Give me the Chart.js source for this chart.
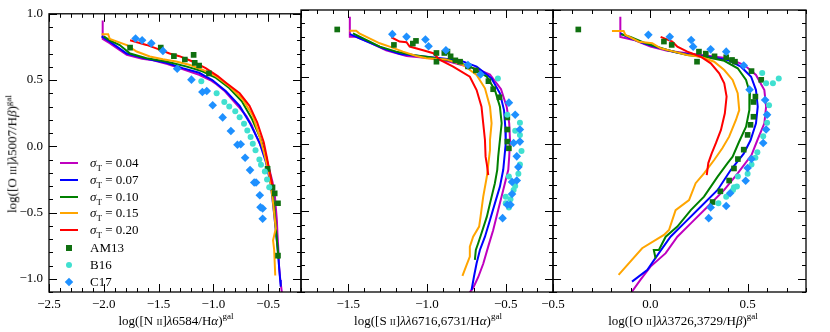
<!DOCTYPE html>
<html>
<head>
<meta charset="utf-8">
<script src="https://cdn.jsdelivr.net/npm/chart.js@4.4.1/dist/chart.umd.min.js"></script>
<style>
    body { margin: 0; background: #fff; }
    #wrap { position: relative; width: 830px; height: 332px; font-family: "Liberation Serif", "DejaVu Serif", serif; color: #000; overflow: hidden; }
    #wrap canvas { position: absolute; left: 0; top: 0; }
    .ttl { position: absolute; font-size: 13px; white-space: nowrap; transform: translate(-50%, -50%); }
    .ttl sup { font-size: 9px; }
    .sc { font-variant: small-caps; }
    #ytitle { transform: translate(-50%, -50%) rotate(-90deg); }
    .leg { position: absolute; left: 56px; height: 16px; width: 120px; font-size: 13px; }
    .leg .sw { position: absolute; }
    .leg .lt { position: absolute; left: 34px; top: 0; line-height: 16px; }
    .leg sub { font-size: 9px; font-style: normal; }
</style>
</head>
<body>
<div id="wrap">
    <canvas id="p1" width="830" height="332"></canvas>
    <canvas id="p2" width="830" height="332"></canvas>
    <canvas id="p3" width="830" height="332"></canvas>
    <div class="ttl" id="ytitle" style="left:12px; top:154px;">log([O <span class="sc">iii</span>]<i>λ</i>5007/H<i>β</i>)<sup>gal</sup></div>
    <div class="ttl" style="left:176px; top:320px;">log([N <span class="sc">ii</span>]<i>λ</i>6584/H<i>α</i>)<sup>gal</sup></div>
    <div class="ttl" style="left:428px; top:320px;">log([S <span class="sc">ii</span>]<i>λλ</i>6716,6731/H<i>α</i>)<sup>gal</sup></div>
    <div class="ttl" style="left:683px; top:320px;">log([O <span class="sc">ii</span>]<i>λλ</i>3726,3729/H<i>β</i>)<sup>gal</sup></div>
    <div id="legend"></div>
</div>

<script>
/* ---------- data: [x, y] pairs ---------- */

const sigmaT = ['0.04', '0.07', '0.10', '0.15', '0.20'];
const sampleNames = ['AM13', 'B16', 'C17'];

const yTicks = [-1.0, -0.5, 0.0, 0.5, 1.0];
const n2Ticks = [-2.5, -2.0, -1.5, -1.0, -0.5];
const s2Ticks = [-1.5, -1.0, -0.5];
const o2Ticks = [-0.5, 0.0, 0.5];

// panel 1: [N II]/Ha
const n2_04 = [[-2.01,0.95],[-2.01,0.81],[-1.95,0.78],[-1.86,0.73],[-1.79,0.69],[-1.65,0.66],[-1.55,0.65],[-1.42,0.62],[-1.31,0.59],[-1.13,0.54],[-1.03,0.50],[-0.975,0.47],[-0.90,0.42],[-0.83,0.355],[-0.76,0.29],[-0.70,0.23],[-0.65,0.16],[-0.61,0.08],[-0.565,0.0],[-0.52,-0.09],[-0.49,-0.17],[-0.46,-0.27],[-0.44,-0.36],[-0.43,-0.46],[-0.42,-0.56],[-0.415,-0.66],[-0.405,-0.80],[-0.40,-0.91],[-0.39,-1.0],[-0.375,-1.1]];
const n2_07 = [[-2.02,0.83],[-1.945,0.79],[-1.79,0.70],[-1.61,0.66],[-1.43,0.63],[-1.28,0.59],[-1.13,0.555],[-1.01,0.50],[-0.885,0.415],[-0.76,0.305],[-0.67,0.18],[-0.58,0.03],[-0.52,-0.12],[-0.475,-0.29],[-0.445,-0.515],[-0.415,-0.76],[-0.39,-1.01],[-0.385,-1.06]];
const n2_10 = [[-2.0,0.83],[-1.945,0.80],[-1.855,0.764],[-1.76,0.70],[-1.61,0.665],[-1.43,0.64],[-1.25,0.603],[-1.10,0.566],[-0.975,0.516],[-0.855,0.44],[-0.74,0.34],[-0.65,0.21],[-0.575,0.07],[-0.52,-0.07],[-0.475,-0.24],[-0.445,-0.44],[-0.425,-0.66],[-0.405,-0.85]];
const n2_15 = [[-2.02,0.845],[-1.96,0.845],[-1.945,0.81],[-1.79,0.764],[-1.70,0.715],[-1.58,0.678],[-1.46,0.657],[-1.34,0.64],[-1.22,0.615],[-1.10,0.578],[-0.975,0.529],[-0.855,0.454],[-0.733,0.355],[-0.64,0.23],[-0.58,0.08],[-0.54,-0.04],[-0.49,-0.215],[-0.46,-0.39],[-0.43,-0.62],[-0.455,-0.71],[-0.445,-0.78],[-0.435,-0.975]];
const n2_20 = [[-1.76,0.80],[-1.61,0.765],[-1.49,0.73],[-1.40,0.70],[-1.31,0.68],[-1.19,0.64],[-1.07,0.59],[-0.96,0.53],[-0.885,0.48],[-0.76,0.40],[-0.67,0.305],[-0.60,0.18],[-0.54,0.03],[-0.51,-0.09],[-0.475,-0.24],[-0.46,-0.30]];
const n2_AM13 = [[-1.76,0.745],[-1.48,0.745],[-1.36,0.68],[-1.26,0.655],[-1.18,0.69],[-1.17,0.63],[-1.13,0.61],[-1.04,0.55],[-0.505,-0.17],[-0.46,-0.31],[-0.44,-0.355],[-0.41,-0.43],[-0.41,-0.825]];
const n2_B16 = [[-1.11,0.49],[-0.97,0.40],[-0.90,0.335],[-0.855,0.30],[-0.80,0.265],[-0.76,0.22],[-0.72,0.17],[-0.69,0.12],[-0.66,0.07],[-0.64,0.02],[-0.615,-0.03],[-0.58,-0.10],[-0.565,-0.14],[-0.53,-0.19],[-0.51,-0.25],[-0.49,-0.31]];
const n2_C17 = [[-1.71,0.814],[-1.65,0.80],[-1.566,0.777],[-1.46,0.72],[-1.33,0.585],[-1.20,0.503],[-1.10,0.41],[-1.06,0.417],[-1.006,0.31],[-0.915,0.218],[-0.84,0.115],[-0.78,0.012],[-0.75,0.015],[-0.71,-0.087],[-0.665,-0.18],[-0.627,-0.273],[-0.61,-0.273],[-0.576,-0.37],[-0.57,-0.46],[-0.55,-0.47],[-0.55,-0.547]];

// panel 2: [S II]/Ha
const s2_04 = [[-1.49,0.95],[-1.49,0.80],[-1.45,0.80],[-1.365,0.76],[-1.26,0.70],[-1.13,0.657],[-0.98,0.64],[-0.855,0.615],[-0.75,0.58],[-0.68,0.56],[-0.60,0.52],[-0.53,0.41],[-0.494,0.28],[-0.478,0.156],[-0.473,0.03],[-0.478,-0.09],[-0.484,-0.19],[-0.516,-0.34],[-0.548,-0.49],[-0.58,-0.64],[-0.611,-0.76],[-0.643,-0.89],[-0.675,-0.99],[-0.707,-1.07],[-0.733,-1.11]];
const s2_07 = [[-1.49,0.82],[-1.41,0.78],[-1.28,0.715],[-1.17,0.672],[-1.05,0.657],[-0.94,0.645],[-0.79,0.625],[-0.685,0.578],[-0.59,0.49],[-0.537,0.38],[-0.511,0.255],[-0.503,0.13],[-0.50,0.007],[-0.51,-0.117],[-0.516,-0.19],[-0.537,-0.315],[-0.569,-0.44],[-0.60,-0.564],[-0.632,-0.688],[-0.664,-0.787],[-0.685,-0.886],[-0.702,-0.986],[-0.717,-1.085]];
const s2_10 = [[-1.47,0.826],[-1.386,0.777],[-1.30,0.727],[-1.195,0.69],[-1.089,0.665],[-0.983,0.648],[-0.898,0.632],[-0.834,0.62],[-0.728,0.58],[-0.62,0.503],[-0.569,0.404],[-0.537,0.28],[-0.526,0.156],[-0.537,0.032],[-0.548,-0.092],[-0.554,-0.19],[-0.569,-0.29],[-0.60,-0.44],[-0.62,-0.539],[-0.654,-0.663],[-0.675,-0.737],[-0.69,-0.787],[-0.696,-0.861]];
const s2_15 = [[-1.492,0.846],[-1.45,0.846],[-1.43,0.826],[-1.365,0.789],[-1.30,0.752],[-1.237,0.727],[-1.153,0.69],[-1.068,0.657],[-1.004,0.64],[-0.94,0.635],[-0.876,0.632],[-0.77,0.59],[-0.685,0.516],[-0.632,0.417],[-0.60,0.28],[-0.59,0.156],[-0.60,0.032],[-0.60,-0.043],[-0.62,-0.24],[-0.643,-0.39],[-0.66,-0.539],[-0.669,-0.613],[-0.707,-0.688],[-0.728,-0.762],[-0.728,-0.837],[-0.749,-0.899],[-0.775,-0.98]];
const s2_20 = [[-1.227,0.797],[-1.174,0.765],[-1.13,0.76],[-1.11,0.728],[-1.025,0.70],[-0.96,0.678],[-0.92,0.63],[-0.834,0.578],[-0.728,0.503],[-0.685,0.404],[-0.654,0.28],[-0.643,0.156],[-0.632,0.032],[-0.628,-0.092],[-0.62,-0.15],[-0.611,-0.229]];
const s2_AM13 = [[-1.57,0.855],[-1.21,0.74],[-1.09,0.75],[-1.07,0.77],[-0.94,0.68],[-0.94,0.615],[-0.89,0.68],[-0.87,0.69],[-0.85,0.655],[-0.82,0.625],[-0.79,0.615],[-0.74,0.58],[-0.69,0.55],[-0.61,0.47],[-0.58,0.41],[-0.54,0.35],[-0.49,0.20],[-0.49,0.11],[-0.49,0.02],[-0.48,-0.03]];
const s2_B16 = [[-0.55,0.49],[-0.49,0.22],[-0.41,0.16],[-0.44,0.10],[-0.41,0.07],[-0.40,-0.05],[-0.41,-0.15],[-0.42,-0.22],[-0.48,-0.24],[-0.44,-0.31],[-0.45,-0.34],[-0.50,-0.39],[-0.47,-0.41],[-0.50,-0.44],[-0.48,-0.47]];
const s2_C17 = [[-1.22,0.82],[-1.13,0.80],[-1.01,0.78],[-0.99,0.73],[-0.88,0.70],[-0.74,0.59],[-0.66,0.52],[-0.48,0.31],[-0.44,0.22],[-0.41,0.11],[-0.41,0.02],[-0.45,0.01],[-0.43,-0.09],[-0.42,-0.17],[-0.43,-0.27],[-0.46,-0.28],[-0.46,-0.37],[-0.49,-0.45],[-0.47,-0.45],[-0.52,-0.55]];

// panel 3: [O II]/Hb
const o2_04 = [[-0.154,0.95],[-0.154,0.80],[-0.085,0.777],[0.001,0.727],[0.087,0.697],[0.19,0.678],[0.294,0.66],[0.397,0.64],[0.483,0.59],[0.543,0.516],[0.586,0.404],[0.595,0.28],[0.586,0.156],[0.55,0.03],[0.52,-0.08],[0.449,-0.216],[0.38,-0.34],[0.294,-0.465],[0.208,-0.589],[0.139,-0.688],[0.079,-0.811],[0.001,-0.911],[-0.051,-1.01],[-0.094,-1.097]];
const o2_07 = [[-0.154,0.826],[-0.102,0.789],[-0.034,0.752],[0.053,0.715],[0.139,0.682],[0.225,0.665],[0.311,0.648],[0.397,0.628],[0.466,0.578],[0.518,0.503],[0.543,0.404],[0.552,0.28],[0.543,0.156],[0.515,0.03],[0.48,-0.07],[0.414,-0.19],[0.346,-0.34],[0.259,-0.465],[0.173,-0.589],[0.104,-0.688],[0.044,-0.811],[-0.016,-0.936],[-0.094,-1.023]];
const o2_10 = [[-0.15,0.82],[-0.102,0.80],[-0.02,0.75],[0.087,0.702],[0.19,0.665],[0.294,0.648],[0.38,0.622],[0.449,0.566],[0.492,0.479],[0.512,0.38],[0.509,0.255],[0.492,0.131],[0.455,0.015],[0.423,-0.092],[0.397,-0.141],[0.346,-0.241],[0.276,-0.39],[0.208,-0.49],[0.139,-0.613],[0.079,-0.688],[0.044,-0.787],[0.018,-0.787],[0.027,-0.85]];
const o2_15 = [[-0.197,0.844],[-0.137,0.844],[-0.128,0.814],[-0.059,0.764],[0.01,0.752],[0.053,0.715],[0.121,0.69],[0.19,0.665],[0.259,0.652],[0.328,0.615],[0.38,0.553],[0.423,0.479],[0.449,0.38],[0.457,0.255],[0.44,0.181],[0.405,0.057],[0.37,-0.03],[0.328,-0.117],[0.276,-0.216],[0.233,-0.29],[0.199,-0.415],[0.13,-0.49],[0.096,-0.638],[0.07,-0.675],[-0.042,-0.774],[-0.163,-0.973]];
const o2_20 = [[0.053,0.80],[0.113,0.764],[0.139,0.727],[0.19,0.69],[0.259,0.652],[0.311,0.603],[0.354,0.528],[0.38,0.454],[0.392,0.355],[0.383,0.231],[0.363,0.107],[0.337,0.008],[0.315,-0.07],[0.298,-0.14],[0.29,-0.229]];
const o2_AM13 = [[-0.37,0.855],[0.07,0.765],[0.11,0.74],[0.24,0.615],[0.25,0.69],[0.285,0.675],[0.33,0.655],[0.39,0.648],[0.42,0.628],[0.435,0.615],[0.52,0.545],[0.57,0.48],[0.54,0.355],[0.53,0.315],[0.53,0.205],[0.515,0.145],[0.50,0.07],[0.48,-0.04],[0.45,-0.11],[0.43,-0.18],[0.405,-0.27],[0.36,-0.35],[0.32,-0.43]];
const o2_B16 = [[0.575,0.53],[0.595,0.455],[0.63,0.455],[0.66,0.49],[0.61,0.29],[0.60,0.22],[0.60,0.16],[0.58,0.06],[0.55,-0.06],[0.54,-0.10],[0.52,-0.15],[0.50,-0.22],[0.45,-0.24],[0.445,-0.315],[0.43,-0.32],[0.425,-0.34],[0.39,-0.39],[0.35,-0.44]];
const o2_C17 = [[-0.01,0.815],[0.10,0.80],[0.21,0.777],[0.22,0.727],[0.31,0.707],[0.39,0.69],[0.48,0.587],[0.51,0.407],[0.59,0.33],[0.60,0.22],[0.595,0.11],[0.58,0.01],[0.52,-0.11],[0.50,-0.177],[0.49,-0.272],[0.41,-0.365],[0.39,-0.46],[0.31,-0.47],[0.30,-0.55]];

/* ---------- styling ---------- */

const lineColors = ['#bf00bf', '#0000ff', '#008000', '#ffa500', '#ff0000'];
const sampleColors = ['#107010', '#40e0d0', '#1e90ff'];
const sampleStyles = ['rect', 'circle', 'rectRot'];
const sampleRadius = [4, 3, 4.3];
const tickFont = { family: '"Liberation Serif", "DejaVu Serif", serif', size: 13 };

const fmt = v => v.toFixed(1).replace('-', '\u2212');

// matplotlib-like frame with inward ticks on all four sides
const frameTicks = {
    id: 'frameTicks',
    afterDraw(chart) {
        const { ctx, chartArea: a, scales: { x, y } } = chart;
        ctx.save();
        ctx.strokeStyle = '#000';
        ctx.lineWidth = 1;
        ctx.beginPath();
        for (let v = Math.ceil(x.min * 10 - 1e-6); v <= Math.floor(x.max * 10 + 1e-6); v++) {
            const px = Math.round(x.getPixelForValue(v / 10)) + 0.5;
            const len = v % 5 === 0 ? 8 : 4;
            ctx.moveTo(px, a.bottom); ctx.lineTo(px, a.bottom - len);
            ctx.moveTo(px, a.top); ctx.lineTo(px, a.top + len);
        }
        for (let v = Math.ceil(y.min * 10 - 1e-6); v <= Math.floor(y.max * 10 + 1e-6); v++) {
            const py = Math.round(y.getPixelForValue(v / 10)) + 0.5;
            const len = v % 5 === 0 ? 8 : 4;
            ctx.moveTo(a.left, py); ctx.lineTo(a.left + len, py);
            ctx.moveTo(a.right, py); ctx.lineTo(a.right - len, py);
        }
        ctx.stroke();
        ctx.lineWidth = 1.3;
        ctx.strokeRect(a.left, a.top, a.right - a.left, a.bottom - a.top);
        ctx.restore();
    }
};

function buildDatasets(lines, samples) {
    const sets = [];
    lines.forEach((data, i) => {
        sets.push({
            label: 'sigma ' + sigmaT[i],
            data: data.map(p => ({ x: p[0], y: p[1] })),
            showLine: true,
            borderColor: lineColors[i],
            borderWidth: 2,
            pointRadius: 0,
            fill: false,
            tension: 0,
        });
    });
    samples.forEach((data, i) => {
        sets.push({
            label: sampleNames[i],
            data: data.map(p => ({ x: p[0], y: p[1] })),
            showLine: false,
            pointStyle: sampleStyles[i],
            pointRadius: sampleRadius[i],
            pointBorderWidth: 0,
            backgroundColor: sampleColors[i],
        });
    });
    // later entries on top
    sets.forEach((s, i) => { s.order = sets.length - i; });
    return sets;
}

function makePanel(id, lines, samples, xMin, xMax, xTicks, padLeft, padRight, showY) {
    return new Chart(document.getElementById(id), {
        type: 'scatter',
        data: { datasets: buildDatasets(lines, samples) },
        options: {
            responsive: false,
            animation: false,
            events: [],
            layout: { padding: { left: padLeft, right: padRight, top: 10, bottom: 0 } },
            plugins: {
                legend: { display: false },
                tooltip: { enabled: false },
            },
            scales: {
                x: {
                    type: 'linear', min: xMin, max: xMax,
                    grid: { display: false, drawTicks: false },
                    border: { display: false },
                    ticks: { font: tickFont, color: '#000', padding: 5, maxRotation: 0, minRotation: 0, autoSkip: false, callback: fmt },
                    afterBuildTicks: s => { s.ticks = xTicks.map(v => ({ value: v })); },
                    afterFit: s => { s.height = 40; },
                },
                y: {
                    type: 'linear', min: -1.1, max: 1.0,
                    display: showY,
                    grid: { display: false, drawTicks: false },
                    border: { display: false },
                    ticks: { font: tickFont, color: '#000', padding: 6, autoSkip: false, callback: fmt },
                    afterBuildTicks: s => { s.ticks = yTicks.map(v => ({ value: v })); },
                    afterFit: s => { s.width = showY ? 49 : 0; },
                },
            },
        },
        plugins: [frameTicks],
    });
}

makePanel('p1', [n2_04, n2_07, n2_10, n2_15, n2_20], [n2_AM13, n2_B16, n2_C17], -2.5, -0.2, n2Ticks, 0, 529, true);
makePanel('p2', [s2_04, s2_07, s2_10, s2_15, s2_20], [s2_AM13, s2_B16, s2_C17], -1.8, -0.2, s2Ticks, 301, 277, false);
makePanel('p3', [o2_04, o2_07, o2_10, o2_15, o2_20], [o2_AM13, o2_B16, o2_C17], -0.5, 0.8, o2Ticks, 553, 24, false);

/* ---------- legend (html so the subscripts stay real text) ---------- */

function renderLegend() {
    const box = document.getElementById('legend');
    const rowTop = [155, 172, 189, 205, 222, 240, 257, 274];
    let html = '';
    sigmaT.forEach((s, i) => {
        html += `<div class="leg" style="top:${rowTop[i]}px">
            <span class="sw" style="left:4px; top:7px; width:18px; height:2px; background:${lineColors[i]}"></span>
            <span class="lt"><i>σ</i><sub>T</sub> = ${s}</span></div>`;
    });
    sampleNames.forEach((name, i) => {
        let mark = '';
        if (i === 0) mark = `left:10px; top:5px; width:6px; height:6px; background:${sampleColors[0]}`;
        if (i === 1) mark = `left:10px; top:5px; width:6px; height:6px; border-radius:50%; background:${sampleColors[1]}`;
        if (i === 2) mark = `left:10px; top:5px; width:6px; height:6px; transform:rotate(45deg); background:${sampleColors[2]}`;
        html += `<div class="leg" style="top:${rowTop[5 + i]}px">
            <span class="sw" style="${mark}"></span>
            <span class="lt">${name}</span></div>`;
    });
    box.innerHTML = html;
}

renderLegend();
</script>
</body>
</html>
